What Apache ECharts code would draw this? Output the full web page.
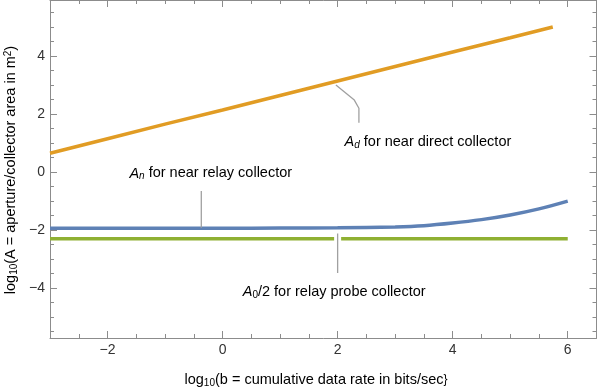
<!DOCTYPE html>
<html>
<head>
<meta charset="utf-8">
<script src="https://cdn.jsdelivr.net/npm/echarts@6/dist/echarts.min.js"></script>
<style>
html, body { margin: 0; padding: 0; background: #fff; }
#chart { width: 598px; height: 389px; }
</style>
</head>
<body>
<div id="chart"></div>
<script>
// curves (log10 b -> log10 A)
const directX = [-3, -2, -1, 0, 1, 2, 3, 4, 5, 5.74];
const directY = [0.65, 1.15, 1.65, 2.14, 2.64, 3.14, 3.64, 4.14, 4.63, 5.0];

const relayX = [-3, -2, -1, 0, 1, 2, 3, 3.5, 4, 4.5, 5, 5.5, 6];
const relayY = [-1.94, -1.94, -1.94, -1.94, -1.93, -1.92, -1.89, -1.85, -1.76, -1.64, -1.48, -1.27, -1.0];

const probeX = [-3, 6];
const probeY = [-2.3, -2.3];

// tick labels
const xTickLabels = [-2, 0, 2, 4, 6];
const yTickLabels = [-4, -2, 0, 2, 4];
const xMinorTicks = [-2.5, -1.5, -1, -0.5, 0.5, 1, 1.5, 2.5, 3, 3.5, 4.5, 5, 5.5];
const yMinorTicks = [-5.5, -5, -4.5, -3.5, -3, -2.5, -1.5, -1, -0.5, 0.5, 1, 1.5, 2.5, 3, 3.5, 4.5, 5, 5.5];

const xMin = -3, xMax = 6.5;
const yMin = -5.72, yMax = 5.93;

const colors = { direct: '#E19C24', relay: '#5E81B5', probe: '#8FB032', callout: '#a0a0a0' };
const frameColor = '#8c8c8c';
const fontFamily = '"Liberation Sans", Arial, sans-serif';
const textColor = '#333';

const zip = (xs, ys) => xs.map((x, i) => [x, ys[i]]);

// one frame side: either major ticks (+line, +labels) or minor ticks
const frameAxis = (position, min, max, ticks, len, withLine, labels) => ({
  type: 'value',
  position,
  min,
  max,
  axisLine: { show: withLine, onZero: false, lineStyle: { color: frameColor, width: 1 } },
  axisTick: { show: true, inside: true, length: len, customValues: ticks, lineStyle: { color: frameColor, width: 1 } },
  axisLabel: labels ? {
    show: true,
    customValues: labels,
    margin: 5,
    fontSize: 14,
    fontFamily,
    color: textColor,
    formatter: v => String(v).replace('-', '\u2212')
  } : { show: false },
  splitLine: { show: false }
});

const calloutLine = (points, color, width) => ({
  type: 'line',
  data: points,
  symbol: 'none',
  silent: true,
  lineStyle: { color, width },
  z: 3
});

const chart = echarts.init(document.getElementById('chart'));

const option = {
  animation: false,
  grid: { left: 50, right: 1.5, top: 0, bottom: 51 },
  xAxis: [
    frameAxis('bottom', xMin, xMax, xTickLabels, 7, true, xTickLabels),
    frameAxis('bottom', xMin, xMax, xMinorTicks, 4, false, null),
    frameAxis('top', xMin, xMax, xTickLabels, 7, true, null),
    frameAxis('top', xMin, xMax, xMinorTicks, 4, false, null)
  ],
  yAxis: [
    frameAxis('left', yMin, yMax, yTickLabels, 7, true, yTickLabels),
    frameAxis('left', yMin, yMax, yMinorTicks, 4, false, null),
    frameAxis('right', yMin, yMax, yTickLabels, 7, true, null),
    frameAxis('right', yMin, yMax, yMinorTicks, 4, false, null)
  ],
  series: [
    {
      name: 'direct',
      type: 'line',
      data: zip(directX, directY),
      symbol: 'none',
      lineStyle: { color: colors.direct, width: 3.5 },
      z: 2
    },
    {
      name: 'relay',
      type: 'line',
      smooth: 0.3,
      data: zip(relayX, relayY),
      symbol: 'none',
      lineStyle: { color: colors.relay, width: 3.5 },
      z: 2
    },
    {
      name: 'probe',
      type: 'line',
      data: zip(probeX, probeY),
      symbol: 'none',
      lineStyle: { color: colors.probe, width: 3.5 },
      z: 2
    },
    // callouts
    calloutLine([[1.97, 3.0], [2.29, 2.48], [2.37, 2.2], [2.37, 1.7]], colors.callout, 1.3),
    calloutLine([[-0.37, -0.65], [-0.37, -1.92]], colors.callout, 1.3),
    calloutLine([[2.0, -2.18], [2.0, -2.44]], '#ffffff', 7),
    calloutLine([[2.0, -2.12], [2.0, -3.48]], colors.callout, 1.3)
  ]
};

chart.setOption(option);

const px = (x, y) => chart.convertToPixel({ xAxisIndex: 0, yAxisIndex: 0 }, [x, y]);

const big = 14.5, small = 10;
const rich = {
  t: { fontSize: big, fontFamily, color: textColor },
  i: { fontSize: big, fontFamily, color: textColor, fontStyle: 'italic' },
  s: { fontSize: small, fontFamily, color: textColor, fontStyle: 'italic', verticalAlign: 'bottom', padding: [6, 0, 0, 0] },
  n: { fontSize: small, fontFamily, color: textColor, verticalAlign: 'bottom', padding: [6, 0, 0, 0] },
  p: { fontSize: small, fontFamily, color: textColor, verticalAlign: 'top', padding: [0, 0, 6, 0] }
};

const note = (x, y, text) => {
  const [left, mid] = px(x, y);
  return {
    type: 'text',
    x: left,
    y: mid,
    silent: true,
    style: { text, rich, align: 'left', verticalAlign: 'middle' }
  };
};

chart.setOption({
  graphic: [
    note(2.12, 1.03, '{i|A}{s|d}{t| for near direct collector}'),
    note(-1.62, -0.05, '{i|A}{s|n}{t| for near relay collector}'),
    note(0.35, -4.14, '{i|A}{n|0}{t|/2 for relay probe collector}'),
    {
      type: 'text',
      x: 316,
      y: 380,
      silent: true,
      style: { text: '{t|log}{n|10}{t|(b = cumulative data rate in bits/sec\}}', rich, align: 'center', verticalAlign: 'middle' }
    },
    {
      type: 'text',
      x: 11,
      y: 170,
      rotation: Math.PI / 2,
      silent: true,
      style: { text: '{t|log}{n|10}{t|(A = aperture/collector area in m}{p|2}{t|)}', rich, align: 'center', verticalAlign: 'middle' }
    }
  ]
});
</script>
</body>
</html>
